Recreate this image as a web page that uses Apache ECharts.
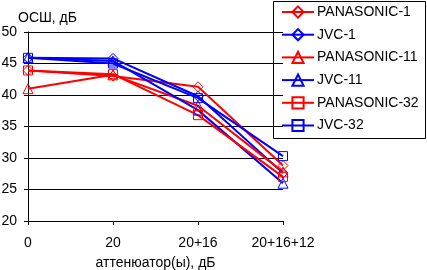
<!DOCTYPE html>
<html>
<head>
<meta charset="utf-8">
<script src="https://cdn.jsdelivr.net/npm/echarts@6/dist/echarts.min.js"></script>
<style>
  html, body { margin: 0; padding: 0; background: #fff; }
  #chart { width: 427px; height: 270px; }
</style>
</head>
<body>
<div id="chart"></div>
<script>
// categories (x axis)
var categories = ['0', '20', '20+16', '20+16+12'];

// series values
var panasonic1  = [43.9, 43.0, 41.3, 28.8];
var jvc1        = [45.9, 45.8, 39.8, 27.6];
var panasonic11 = [41.0, 43.2, 38.3, 27.8];
var jvc11       = [45.9, 45.4, 37.6, 26.0];
var panasonic32 = [43.9, 43.3, 36.8, 27.0];
var jvc32       = [45.9, 45.0, 39.5, 30.3];

var seriesNames = ['PANASONIC-1', 'JVC-1', 'PANASONIC-11', 'JVC-11', 'PANASONIC-32', 'JVC-32'];
var seriesData = [panasonic1, jvc1, panasonic11, jvc11, panasonic32, jvc32];
var seriesColors = ['#ff0000', '#0000ff', '#ff0000', '#0000ff', '#ff0000', '#0000ff'];
var seriesSymbols = ['diamond', 'diamond', 'triangle', 'triangle', 'rect', 'rect'];

var font = 'Liberation Sans, Arial, sans-serif';

var chart = echarts.init(document.getElementById('chart'));

var series = [];
for (var i = 0; i < seriesNames.length; i++) {
    series.push({
        name: seriesNames[i],
        type: 'line',
        data: seriesData[i],
        symbol: seriesSymbols[i],
        symbolSize: seriesSymbols[i] == 'rect' ? 9 : 10,
        showAllSymbol: true,
        animation: false,
        lineStyle: { color: seriesColors[i], width: 2 },
        itemStyle: { color: 'rgba(255,255,255,0)', borderColor: seriesColors[i], borderWidth: 1 }
    });
}

var option = {
    backgroundColor: '#fff',
    animation: false,
    textStyle: { fontFamily: font },
    grid: { left: 28, right: 144, top: 32, bottom: 49, containLabel: false, outerBoundsMode: 'none' },
    legend: {
        orient: 'vertical',
        left: 281,
        top: 5,
        itemWidth: 32,
        itemHeight: 14,
        itemGap: 8.7,
        padding: 0,
        textStyle: { fontFamily: font, fontSize: 14, color: '#000', padding: [0, 0, 0, -2] },
        data: seriesNames
    },
    graphic: [{
        type: 'rect',
        shape: { x: 273.5, y: 1.5, width: 152, height: 137 },
        style: { fill: 'none', stroke: '#000', lineWidth: 1 },
        z: -1
    }],
    xAxis: {
        type: 'category',
        data: categories,
        boundaryGap: false,
        name: 'аттенюатор(ы), дБ',
        nameLocation: 'middle',
        nameGap: 35,
        nameTextStyle: { fontFamily: font, fontSize: 14, color: '#000' },
        axisLine: { lineStyle: { color: '#000', width: 1 } },
        axisTick: { show: true, alignWithLabel: true, length: 4, lineStyle: { color: '#000' } },
        axisLabel: { fontFamily: font, fontSize: 14, color: '#000', margin: 15 },
        splitLine: { show: false }
    },
    yAxis: {
        type: 'value',
        min: 20,
        max: 50,
        interval: 5,
        name: 'ОСШ, дБ',
        nameLocation: 'end',
        nameGap: 7,
        nameTextStyle: { fontFamily: font, fontSize: 14, color: '#000', align: 'left', padding: [0, 0, 0, -10] },
        axisLine: { show: true, lineStyle: { color: '#000', width: 1 } },
        axisTick: { show: true, length: 4, lineStyle: { color: '#000' } },
        axisLabel: { fontFamily: font, fontSize: 14, color: '#000', margin: 11 },
        splitLine: { show: true, lineStyle: { color: '#000', width: 1 } }
    },
    series: series
};

chart.setOption(option);
</script>
</body>
</html>
